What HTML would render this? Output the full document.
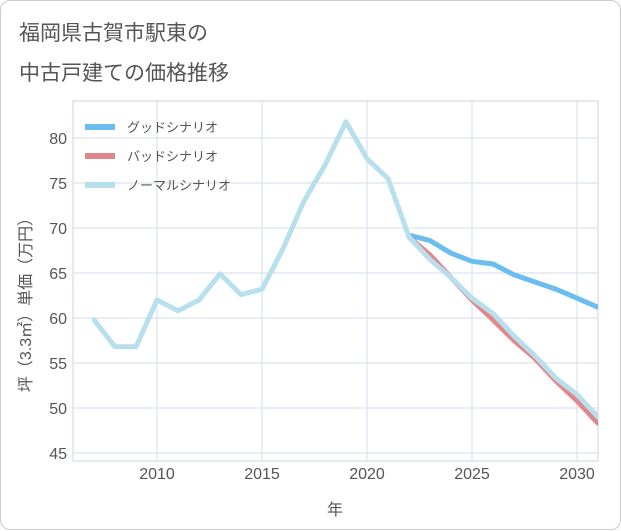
<!DOCTYPE html>
<html><head><meta charset="utf-8"><style>
body{margin:0;background:#fff;}
#card{position:absolute;left:0;top:0;width:619px;height:528px;border:1px solid #ccc;border-radius:10px;background:#fff;font-family:"Liberation Sans","Noto Sans CJK JP",sans-serif;}
.title{position:absolute;left:18px;font-size:21px;color:#555;}
</style></head><body>
<div id="card">
<div class="title" style="top:16px">福岡県古賀市駅東の</div>
<div class="title" style="top:56px">中古戸建ての価格推移</div>
<svg id="chart" width="621" height="530" style="position:absolute;left:0;top:0"></svg>
</div>
<script>
const years=[2007,2008,2009,2010,2011,2012,2013,2014,2015,2016,2017,2018,2019,2020,2021,2022,2023,2024,2025,2026,2027,2028,2029,2030,2031];
const normal=[59.8,56.8,56.8,62,60.8,62,64.9,62.6,63.2,67.7,73,77,81.8,77.7,75.5,69,66.5,64.5,62.2,60.5,58,55.8,53.3,51.5,49];
const goodYears=[2022,2023,2024,2025,2026,2027,2028,2029,2030,2031];
const good=[69.2,68.6,67.2,66.3,66,64.8,64,63.2,62.2,61.2];
const bad=[69,67,64.5,62,59.8,57.5,55.5,53,50.8,48.3];
const xTicks=[2010,2015,2020,2025,2030];
const yTicks=[45,50,55,60,65,70,75,80];
const NS="http://www.w3.org/2000/svg";
const svg=document.getElementById('chart');
const L=72,R=597,T=100,B=460;
const x=v=>156+(v-2010)*21;
const y=v=>407-(v-50)*9;
function mk(t,a){const e=document.createElementNS(NS,t);for(const k in a)e.setAttribute(k,a[k]);svg.appendChild(e);return e;}
let bg=mk('rect',{x:L,y:T,width:R-L,height:B-T,fill:'#fff',stroke:'#ccd6e0'});


xTicks.forEach(v=>{let g=mk('line',{x1:x(v),x2:x(v),y1:T,y2:B,stroke:'#d5dee8'});


let t=mk('text',{x:x(v),y:478,'font-size':16,fill:'#555','text-anchor':'middle'});t.textContent=v;

});
yTicks.forEach(v=>{let g=mk('line',{x1:L,x2:R,y1:y(v),y2:y(v),stroke:'#d5dee8'});


let t=mk('text',{x:66,y:y(v)+6,'font-size':16,fill:'#555','text-anchor':'end'});t.textContent=v;

});
let xt=mk('text',{x:334,y:514,'font-size':16,fill:'#555','text-anchor':'middle'});xt.textContent='年';


let yt=mk('text',{x:0,y:0,'font-size':16,fill:'#555','text-anchor':'middle',transform:'translate(30,300) rotate(-90)'});yt.textContent='坪（3.3㎡）単価（万円）';


function line(xs,vs,c,name){const p=xs.map((yr,i)=>x(yr)+','+y(vs[i])).join(' ');
let e=mk('polyline',{points:p,fill:'none',stroke:c,'stroke-width':5,'stroke-linejoin':'round','stroke-linecap':'round'});

}
const cp=mk('clipPath',{id:'c'});const cr=document.createElementNS(NS,'rect');cr.setAttribute('x',L);cr.setAttribute('y',T);cr.setAttribute('width',R-L);cr.setAttribute('height',B-T);cp.appendChild(cr);
line(goodYears,good,'#6bbdf0','good-scenario-line');
line(goodYears,bad,'#e0868c','bad-scenario-line');
line(years,normal,'#b8dfec','normal-scenario-line');
svg.querySelectorAll('polyline').forEach(p=>p.setAttribute('clip-path','url(#c)'));
const leg=[['グッドシナリオ','#6bbdf0',126],['バッドシナリオ','#e0868c',155],['ノーマルシナリオ','#b8dfec',184]];
leg.forEach(l=>{let s=mk('line',{x1:84,x2:114,y1:l[2],y2:l[2],stroke:l[1],'stroke-width':6});


let t=mk('text',{x:126,y:l[2]+5,'font-size':13,fill:'#555'});t.textContent=l[0];

});
</script>
</body></html>
